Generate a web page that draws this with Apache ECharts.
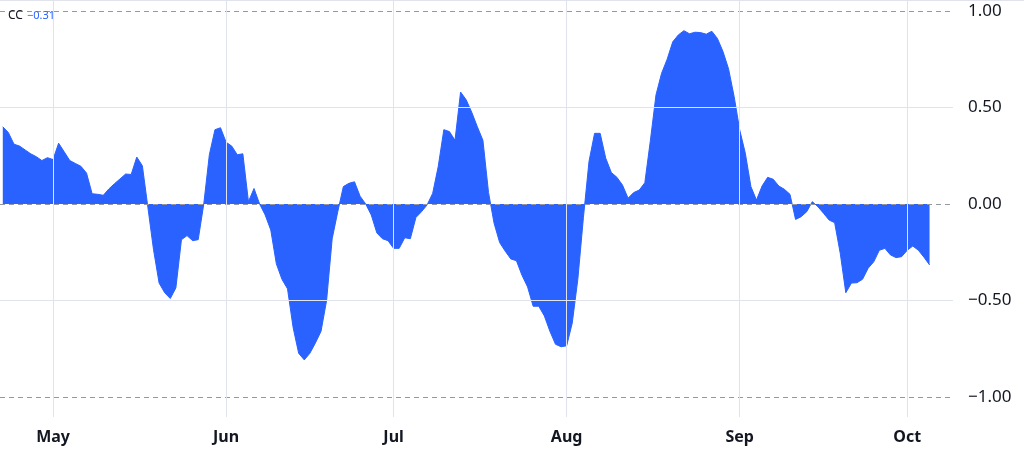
<!DOCTYPE html>
<html>
<head>
<meta charset="utf-8">
<script src="https://cdn.jsdelivr.net/npm/echarts@6/dist/echarts.min.js"></script>
<style>
html,body{margin:0;padding:0;background:#fff;}
#chart{width:1024px;height:455px;}
</style>
</head>
<body>
<div id="chart"></div>
<script>
// ---- data ----
const startDate = Date.UTC(2023, 3, 22); // first daily point (Apr 22)
const DAY = 86400000;
const ccValues = [
  0.40, 0.37, 0.31, 0.30, 0.28, 0.26, 0.245, 0.225, 0.24, 0.23,
  0.315, 0.27, 0.225, 0.21, 0.195, 0.16, 0.053, 0.05, 0.045, 0.078,
  0.105, 0.13, 0.155, 0.153, 0.243, 0.198, -0.02, -0.237, -0.41, -0.46,
  -0.49, -0.435, -0.185, -0.164, -0.19, -0.185, 0.0, 0.255, 0.385, 0.395,
  0.32, 0.30, 0.255, 0.26, 0.012, 0.08, 0.0, -0.057, -0.135, -0.31,
  -0.39, -0.44, -0.64, -0.774, -0.808, -0.774, -0.72, -0.66, -0.50, -0.18,
  -0.04, 0.09, 0.107, 0.115, 0.04, 0.0, -0.057, -0.15, -0.18, -0.19,
  -0.23, -0.23, -0.175, -0.18, -0.07, -0.04, -0.005, 0.055, 0.195, 0.385,
  0.375, 0.33, 0.58, 0.54, 0.475, 0.40, 0.33, 0.06, -0.10, -0.20,
  -0.245, -0.285, -0.294, -0.37, -0.43, -0.53, -0.53, -0.58, -0.66, -0.727,
  -0.74, -0.735, -0.617, -0.39, -0.07, 0.22, 0.366, 0.366, 0.237, 0.163,
  0.138, 0.098, 0.03, 0.059, 0.072, 0.11, 0.33, 0.565, 0.677, 0.75,
  0.84, 0.876, 0.898, 0.882, 0.89, 0.888, 0.88, 0.895, 0.858, 0.79,
  0.70, 0.556, 0.383, 0.263, 0.09, 0.02, 0.093, 0.138, 0.128, 0.093,
  0.076, 0.05, -0.08, -0.066, -0.04, 0.012, -0.014, -0.048, -0.083, -0.097,
  -0.255, -0.46, -0.41, -0.408, -0.39, -0.333, -0.30, -0.24, -0.23, -0.264,
  -0.278, -0.273, -0.24, -0.218, -0.24, -0.276, -0.316
];
const monthDates = ['2023-05-01', '2023-06-01', '2023-07-01', '2023-08-01', '2023-09-01', '2023-10-01'];
const monthLabels = ['May', 'Jun', 'Jul', 'Aug', 'Sep', 'Oct'];
const yTickValues = [1, 0.5, 0, -0.5, -1];
const yTickLabels = ['1.00', '0.50', '0.00', '\u22120.50', '\u22121.00'];
const legendName = 'CC';
const legendValue = '\u22120.31';

// ---- chart ----
const seriesData = ccValues.map((v, i) => [startDate + i * DAY, v]);
const xMin = startDate - 0.5 * DAY;
const xMax = startDate + 170.2 * DAY;

const textColor = '#131722';
const gridColor = '#e0e3eb';
const dashColor = '#9598a1';
const blue = '#2962ff';
const fontFam = '"Noto Sans", "Open Sans", sans-serif';

const hLines = yTickValues.map((v, i) => ({
  yAxis: v,
  lineStyle: {
    color: (v === 0.5 || v === -0.5) ? gridColor : dashColor,
    type: (v === 0.5 || v === -0.5) ? 'solid' : [5, 4],
    width: 1
  },
  label: {
    show: true, position: 'end', distance: 15, formatter: yTickLabels[i],
    color: textColor, fontSize: 17, fontFamily: fontFam
  }
}));
const vLines = monthDates.map((d, i) => ({
  xAxis: Date.parse(d + 'T00:00:00Z'),
  lineStyle: { color: gridColor, type: 'solid', width: 1 },
  label: {
    show: true, position: 'start', distance: 12, formatter: monthLabels[i],
    color: textColor, fontSize: 16, fontWeight: 'bold', fontFamily: fontFam
  }
}));

const chart = echarts.init(document.getElementById('chart'), null, { renderer: 'canvas' });
chart.setOption({
  animation: false,
  useUTC: true,
  backgroundColor: '#ffffff',
  grid: { left: 0, right: 71, top: 0, bottom: 38, containLabel: false },
  xAxis: {
    type: 'time', min: xMin, max: xMax,
    axisLine: { show: false }, axisTick: { show: false },
    axisLabel: { show: false }, splitLine: { show: false }
  },
  yAxis: {
    type: 'value', min: -1.104, max: 1.057,
    axisLine: { show: false }, axisTick: { show: false },
    axisLabel: { show: false }, splitLine: { show: false }
  },
  graphic: [
    { type: 'rect', shape: { x: 0, y: 0, width: 1024, height: 1 }, style: { fill: gridColor }, silent: true },
    {
      type: 'text', x: 8, y: 16, z: 100, silent: true,
      style: { text: legendName, fontSize: 12, fill: textColor, fontFamily: fontFam, verticalAlign: 'middle', align: 'left' }
    },
    {
      type: 'text', x: 27, y: 16, z: 100, silent: true,
      style: { text: legendValue, fontSize: 11, fill: blue, fontFamily: fontFam, verticalAlign: 'middle', align: 'left' }
    }
  ],
  series: [
    {
      type: 'line', data: [], z: 1, silent: true,
      markLine: {
        silent: true, symbol: ['none', 'none'], animation: false,
        data: hLines.concat(vLines)
      }
    },
    {
      type: 'line', name: legendName, data: seriesData, z: 3,
      showSymbol: false, symbol: 'none',
      lineStyle: { color: blue, width: 1 },
      areaStyle: { color: blue, opacity: 1, origin: 0 },
      itemStyle: { color: blue }
    }
  ]
});
</script>
</body>
</html>
